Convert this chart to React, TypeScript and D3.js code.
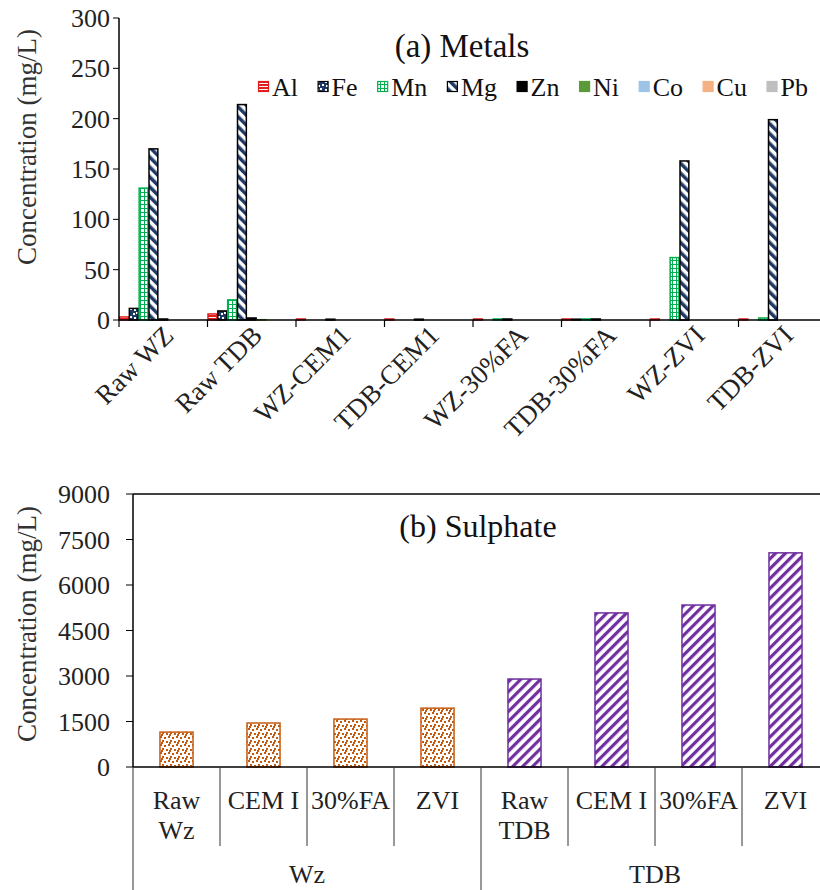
import React, { useEffect, useRef } from 'react';
import * as d3 from 'd3';

// ---------- Panel (a) data ----------
const metalCategories = ['Raw WZ', 'Raw TDB', 'WZ-CEM1', 'TDB-CEM1', 'WZ-30%FA', 'TDB-30%FA', 'WZ-ZVI', 'TDB-ZVI'];
const metalNames = ['Al', 'Fe', 'Mn', 'Mg', 'Zn', 'Ni', 'Co', 'Cu', 'Pb'];
const alValues = [3, 6, 1, 1, 1, 1, 1, 1];
const feValues = [11.5, 9, 0, 0, 0, 0.8, 0, 0];
const mnValues = [131, 20, 0, 0, 1, 1, 62, 2];
const mgValues = [170, 214, 0.8, 0.8, 1, 1, 158, 199];
const znValues = [1, 2, 0, 0, 0, 0, 0, 0];
const niValues = [0, 0.3, 0, 0, 0, 0, 0, 0];
const coValues = [0, 0, 0, 0, 0, 0, 0, 0];
const cuValues = [0, 0, 0, 0, 0, 0, 0, 0];
const pbValues = [0, 0, 0, 0, 0, 0, 0, 0];
const metalTicks = [0, 50, 100, 150, 200, 250, 300];

// ---------- Panel (b) data ----------
const sulphateCategories = [['Raw', 'Wz'], ['CEM I'], ['30%FA'], ['ZVI'], ['Raw', 'TDB'], ['CEM I'], ['30%FA'], ['ZVI']];
const sulphateGroups = ['Wz', 'TDB'];
const sulphateGroupOf = [0, 0, 0, 0, 1, 1, 1, 1];
const sulphateValues = [1150, 1450, 1580, 1940, 2900, 5080, 5340, 7060];
const sulphateTicks = [0, 1500, 3000, 4500, 6000, 7500, 9000];

const FONT = '"Liberation Serif", "Times New Roman", serif';
const FS = 26;

export default function App() {
  const ref = useRef<SVGSVGElement>(null);

  useEffect(() => {
    const svg = d3.select(ref.current);
    svg.selectAll('*').remove();

    // ---------- patterns ----------
    const defs = svg.append('defs');
    const pAl = defs.append('pattern').attr('id', 'pAl').attr('patternUnits', 'userSpaceOnUse').attr('width', 4).attr('height', 3);
    pAl.append('rect').attr('width', 4).attr('height', 3).attr('fill', '#fff');
    pAl.append('rect').attr('width', 4).attr('height', 2).attr('fill', '#e01e1e');
    const pFe = defs.append('pattern').attr('id', 'pFe').attr('patternUnits', 'userSpaceOnUse').attr('width', 8).attr('height', 8);
    pFe.append('rect').attr('width', 8).attr('height', 8).attr('fill', '#1f3864');
    [[0, 0], [5, 1], [2, 4], [6, 5]].forEach(([x, y]) =>
      pFe.append('rect').attr('x', x).attr('y', y).attr('width', 2).attr('height', 2).attr('fill', '#fff'));
    const pMn = defs.append('pattern').attr('id', 'pMn').attr('patternUnits', 'userSpaceOnUse').attr('width', 4).attr('height', 4);
    pMn.append('rect').attr('width', 4).attr('height', 4).attr('fill', '#fff');
    pMn.append('rect').attr('width', 4).attr('height', 1).attr('fill', '#00b050');
    pMn.append('rect').attr('width', 1).attr('height', 4).attr('fill', '#00b050');
    const pMg = defs.append('pattern').attr('id', 'pMg').attr('patternUnits', 'userSpaceOnUse').attr('width', 7).attr('height', 7).attr('patternTransform', 'rotate(-45)');
    pMg.append('rect').attr('width', 7).attr('height', 7).attr('fill', '#fff');
    pMg.append('rect').attr('width', 3.5).attr('height', 7).attr('fill', '#1f3864');
    const pWz = defs.append('pattern').attr('id', 'pWz').attr('patternUnits', 'userSpaceOnUse').attr('width', 8).attr('height', 8);
    pWz.append('rect').attr('width', 8).attr('height', 8).attr('fill', '#fff');
    [[0, 0], [4, 1], [2, 4], [6, 5], [1, 6]].forEach(([x, y]) =>
      pWz.append('rect').attr('x', x).attr('y', y).attr('width', 2).attr('height', 2).attr('fill', '#c55a11'));
    const pTdb = defs.append('pattern').attr('id', 'pTdb').attr('patternUnits', 'userSpaceOnUse').attr('width', 7).attr('height', 7).attr('patternTransform', 'rotate(45)');
    pTdb.append('rect').attr('width', 7).attr('height', 7).attr('fill', '#fff');
    pTdb.append('rect').attr('width', 3.2).attr('height', 7).attr('fill', '#7030a0');

    const seriesStyle: { fill: string; stroke: string }[] = [
      { fill: 'url(#pAl)', stroke: '#e01e1e' },
      { fill: 'url(#pFe)', stroke: '#000' },
      { fill: 'url(#pMn)', stroke: '#00b050' },
      { fill: 'url(#pMg)', stroke: '#000' },
      { fill: '#000', stroke: '#000' },
      { fill: '#5b9a3a', stroke: '#5b9a3a' },
      { fill: '#9dc3e6', stroke: '#9dc3e6' },
      { fill: '#f4b183', stroke: '#f4b183' },
      { fill: '#bfbfbf', stroke: '#bfbfbf' },
    ];
    const seriesValues = [alValues, feValues, mnValues, mgValues, znValues, niValues, coValues, cuValues, pbValues];

    const txt = (g: any, x: number, y: number, s: string, anchor = 'middle', size = FS, fill = '#222') =>
      g.append('text').attr('x', x).attr('y', y).attr('text-anchor', anchor)
        .attr('font-family', FONT).attr('font-size', size).attr('fill', fill).text(s);

    // ---------- Panel (a) ----------
    const aLeft = 119, aTop = 18, aBottom = 320, aCat = 88.5;
    const xA = d3.scaleBand<string>().domain(metalCategories).range([aLeft, aLeft + aCat * metalCategories.length]).padding(0);
    const xAin = d3.scaleBand<string>().domain(metalNames).range([0, xA.bandwidth()]).padding(0);
    const yA = d3.scaleLinear().domain([0, 300]).range([aBottom, aTop]);
    const gA = svg.append('g');

    metalNames.forEach((m, si) => {
      metalCategories.forEach((c, ci) => {
        const v = seriesValues[si][ci];
        if (v <= 0) return;
        gA.append('rect')
          .attr('x', (xA(c) ?? 0) + (xAin(m) ?? 0) + 0.5)
          .attr('y', yA(v))
          .attr('width', xAin.bandwidth() - 1)
          .attr('height', aBottom - yA(v))
          .attr('fill', seriesStyle[si].fill)
          .attr('stroke', seriesStyle[si].stroke)
          .attr('stroke-width', 1.5);
      });
    });

    gA.append('line').attr('x1', aLeft).attr('x2', aLeft).attr('y1', aTop).attr('y2', aBottom + 0.5).attr('stroke', '#000').attr('stroke-width', 1.5);
    gA.append('line').attr('x1', aLeft).attr('x2', 820).attr('y1', aBottom).attr('y2', aBottom).attr('stroke', '#000').attr('stroke-width', 1.5);
    metalTicks.forEach((t) => {
      gA.append('line').attr('x1', aLeft - 6).attr('x2', aLeft).attr('y1', yA(t)).attr('y2', yA(t)).attr('stroke', '#000').attr('stroke-width', 1);
      txt(gA, 110, yA(t), String(t), 'end').attr('dy', '0.35em');
    });
    metalCategories.forEach((c) => {
      const x0 = xA(c) ?? 0;
      gA.append('line').attr('x1', x0).attr('x2', x0).attr('y1', aBottom).attr('y2', aBottom + 7).attr('stroke', '#000').attr('stroke-width', 1.2);
      const cx = x0 + xA.bandwidth() / 2 + 12;
      gA.append('text').attr('transform', `translate(${cx},${aBottom + 17}) rotate(-45)`).attr('text-anchor', 'end')
        .attr('font-family', FONT).attr('font-size', FS + 1).attr('fill', '#222').text(c);
    });
    gA.append('text').attr('transform', `translate(36,147) rotate(-90)`).attr('text-anchor', 'middle')
      .attr('font-family', FONT).attr('font-size', FS + 1).attr('fill', '#333').text('Concentration (mg/L)');
    txt(gA, 462, 57, '(a) Metals', 'middle', 33, '#111');

    // legend
    const legStart = 258, legEnd = 808, sq = 11, sqGap = 3, legY = 87;
    const legG = gA.append('g');
    const texts = metalNames.map((m) => txt(legG, 0, legY, m, 'start', FS, '#111').attr('dy', '0.35em'));
    const widths = texts.map((t: any) => (t.node() as SVGTextElement).getComputedTextLength());
    const itemW = widths.map((w: number) => sq + sqGap + w);
    const gap = (legEnd - legStart - d3.sum(itemW)) / (metalNames.length - 1);
    let cx = legStart;
    metalNames.forEach((m, i) => {
      legG.append('rect').attr('x', cx + 0.5).attr('y', legY - sq / 2).attr('width', sq - 1).attr('height', sq - 1)
        .attr('fill', seriesStyle[i].fill).attr('stroke', seriesStyle[i].stroke).attr('stroke-width', 1.2);
      texts[i].attr('x', cx + sq + sqGap);
      cx += itemW[i] + gap;
    });

    // ---------- Panel (b) ----------
    const bLeft = 133, bTop = 494, bBottom = 767, bCat = 87;
    const idx = sulphateValues.map((_, i) => String(i));
    const xB = d3.scaleBand<string>().domain(idx).range([bLeft, bLeft + bCat * idx.length]).paddingInner(0.62).paddingOuter(0.31);
    const xBcat = d3.scaleBand<string>().domain(idx).range([bLeft, bLeft + bCat * idx.length]).padding(0);
    const yB = d3.scaleLinear().domain([0, 9000]).range([bBottom, bTop]);
    const gB = svg.append('g');

    sulphateValues.forEach((v, i) => {
      const grp = sulphateGroupOf[i];
      gB.append('rect')
        .attr('x', xB(String(i)) ?? 0)
        .attr('y', yB(v))
        .attr('width', xB.bandwidth())
        .attr('height', bBottom - yB(v))
        .attr('fill', grp === 0 ? 'url(#pWz)' : 'url(#pTdb)')
        .attr('stroke', grp === 0 ? '#c55a11' : '#7030a0')
        .attr('stroke-width', 1.5);
    });

    gB.append('line').attr('x1', bLeft).attr('x2', 820).attr('y1', bTop).attr('y2', bTop).attr('stroke', '#000').attr('stroke-width', 1.5);
    gB.append('line').attr('x1', bLeft).attr('x2', bLeft).attr('y1', bTop).attr('y2', bBottom).attr('stroke', '#000').attr('stroke-width', 1.5);
    gB.append('line').attr('x1', bLeft).attr('x2', 820).attr('y1', bBottom).attr('y2', bBottom).attr('stroke', '#000').attr('stroke-width', 1.5);
    sulphateTicks.forEach((t) => {
      gB.append('line').attr('x1', bLeft - 7).attr('x2', bLeft).attr('y1', yB(t)).attr('y2', yB(t)).attr('stroke', '#000').attr('stroke-width', 1);
      txt(gB, 110, yB(t), String(t), 'end').attr('dy', '0.35em');
    });
    idx.forEach((k, i) => {
      const x0 = xBcat(k) ?? 0;
      const isGroupStart = i === 0 || sulphateGroupOf[i] !== sulphateGroupOf[i - 1];
      gB.append('line').attr('x1', x0).attr('x2', x0).attr('y1', bBottom).attr('y2', isGroupStart ? 890 : 846)
        .attr('stroke', '#333').attr('stroke-width', 1);
      sulphateCategories[i].forEach((ln, li) => {
        txt(gB, x0 + xBcat.bandwidth() / 2, 809 + li * 30, ln);
      });
    });
    sulphateGroups.forEach((g, gi) => {
      const members = idx.filter((_, i) => sulphateGroupOf[i] === gi);
      const x0 = xBcat(members[0]) ?? 0;
      const x1 = (xBcat(members[members.length - 1]) ?? 0) + xBcat.bandwidth();
      txt(gB, (x0 + x1) / 2, 883, g);
    });
    gB.append('text').attr('transform', `translate(36,624) rotate(-90)`).attr('text-anchor', 'middle')
      .attr('font-family', FONT).attr('font-size', FS + 1).attr('fill', '#333').text('Concentration (mg/L)');
    txt(gB, 478, 537, '(b) Sulphate', 'middle', 32, '#111');
  }, []);

  return (
    <svg ref={ref} width={820} height={890} style={{ position: 'absolute', left: 0, top: 0, background: '#fff' }} />
  );
}
